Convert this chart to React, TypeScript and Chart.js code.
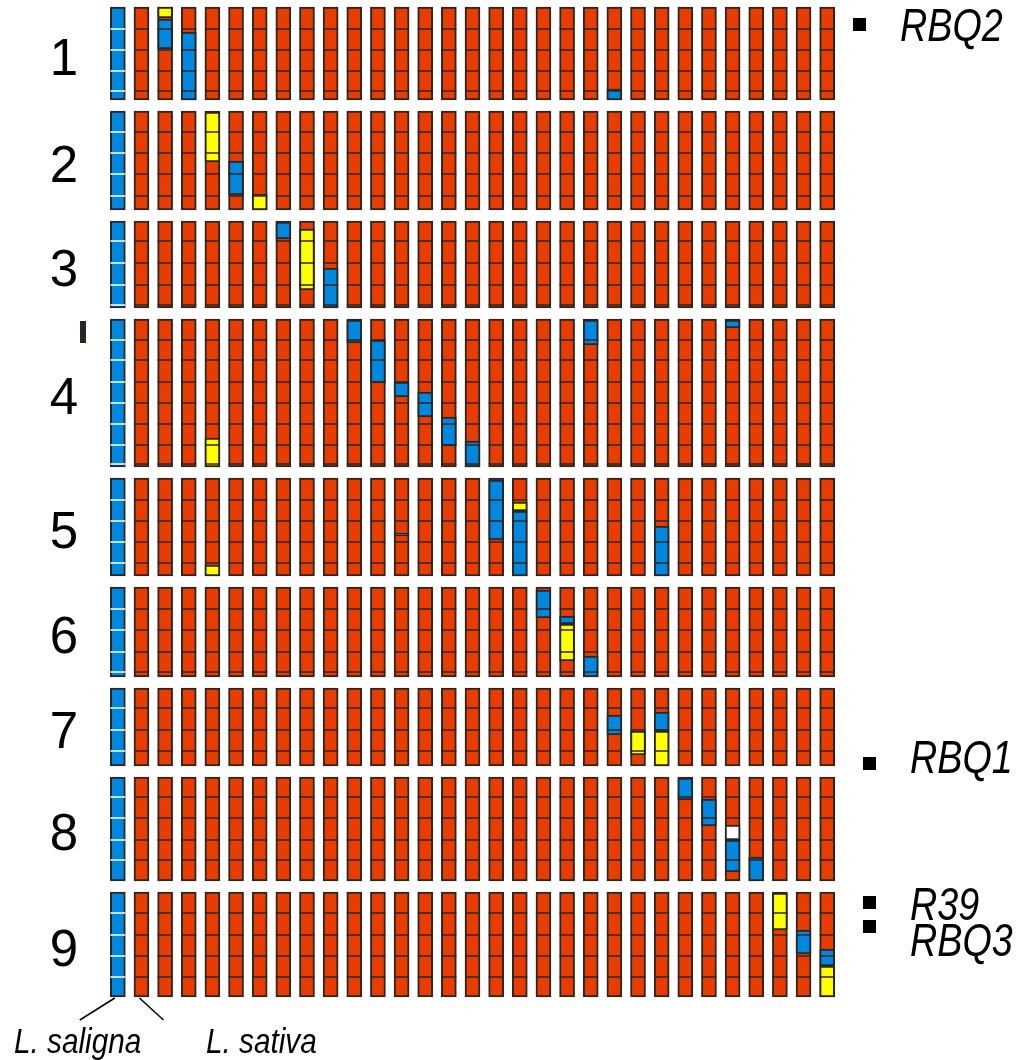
import React, { useEffect, useRef } from "react";
import { Chart, registerables } from "chart.js";

Chart.register(...registerables);

// ---------- DATA ----------
// Lines (columns): donor parent, recurrent parent, then the introgression lines
const lines = [
  "L. saligna", "L. sativa",
  "IL01", "IL02", "IL03", "IL04", "IL05", "IL06", "IL07", "IL08", "IL09", "IL10",
  "IL11", "IL12", "IL13", "IL14", "IL15", "IL16", "IL17", "IL18", "IL19", "IL20",
  "IL21", "IL22", "IL23", "IL24", "IL25", "IL26", "IL27", "IL28", "IL29",
];

const chromosomes = ["1", "2", "3", "4", "5", "6", "7", "8", "9"];
// chromosome lengths (map units)
const chromLength = [93, 99, 87, 148, 98, 90, 78, 104, 105];
// marker positions along each chromosome (map units from top)
const markerPos = [
  [22, 43, 64, 84],
  [21, 42, 63, 85],
  [20, 42, 64, 84],
  [21, 41, 63, 84, 105, 126, 145],
  [22, 43, 64, 85],
  [22, 43, 65, 85],
  [20, 42, 63],
  [20, 41, 63, 83],
  [21, 43, 64, 85],
];

// introgressions: [chromosome, line index, start, end, genotype]
// S = L. saligna homozygous, H = heterozygous, M = missing
const introgressions: [number, number, number, number, string][] = [
  [1, 2, 0, 11, "H"], [1, 2, 12, 42, "S"], [1, 3, 25, 93, "S"], [1, 21, 82, 93, "S"],
  [2, 4, 1, 51, "H"], [2, 5, 50, 84, "S"], [2, 6, 83, 99, "H"],
  [3, 7, 1, 18, "S"], [3, 8, 8, 69, "H"], [3, 9, 47, 87, "S"],
  [4, 4, 119, 148, "H"], [4, 10, 1, 24, "S"], [4, 11, 21, 64, "S"], [4, 12, 63, 78, "S"],
  [4, 13, 73, 98, "S"], [4, 14, 98, 127, "S"], [4, 15, 122, 148, "S"], [4, 20, 1, 26, "S"],
  [4, 26, 1, 9, "S"],
  [5, 4, 87, 98, "H"], [5, 12, 55, 58, "S"], [5, 16, 2, 62, "S"], [5, 17, 24, 33, "H"],
  [5, 17, 33, 98, "S"], [5, 23, 48, 98, "S"],
  [6, 18, 3, 31, "S"], [6, 19, 29, 37, "S"], [6, 19, 37, 74, "H"], [6, 20, 69, 90, "S"],
  [7, 21, 27, 47, "S"], [7, 22, 43, 67, "H"], [7, 23, 24, 43, "S"], [7, 23, 43, 78, "H"],
  [8, 24, 1, 23, "S"], [8, 25, 22, 49, "S"], [8, 26, 48, 63, "M"], [8, 26, 63, 95, "S"],
  [8, 27, 80, 104, "S"],
  [9, 28, 1, 38, "H"], [9, 29, 38, 62, "S"], [9, 30, 57, 74, "S"], [9, 30, 74, 105, "H"],
];

// resistance genes / QTLs
const geneNames = ["RBQ2", "RBQ1", "R39", "RBQ3"];
const geneChrom = [1, 7, 9, 9];
const genePos = [18, 76, 11, 35];

// ---------- STYLE / LAYOUT ----------
const GENO_COLORS: Record<string, string> = {
  S: "#0088E0",
  L: "#E83C00",
  H: "#FFFF00",
  M: "#FFFFFF",
};
const EDGE = "#2B2622";
const FIRST_TOP = 7;
const ROW_GAP = 11;
const FONT = '"Liberation Sans", Arial, sans-serif';
const GENE_DX = [-10, 0, 0, 0];
const GENE_LABEL_DY = [3, -4, 4, 16];

function narrowText(ctx: CanvasRenderingContext2D, text: string, x: number, y: number, sx: number) {
  ctx.save();
  ctx.translate(x, y);
  ctx.scale(sx, 1);
  ctx.fillText(text, 0, 0);
  ctx.restore();
}

export default function App() {
  const ref = useRef<HTMLCanvasElement>(null);

  useEffect(() => {
    const tops: number[] = [];
    let acc = FIRST_TOP;
    chromLength.forEach((len) => {
      tops.push(acc);
      acc += len + ROW_GAP;
    });

    const bgData: any[] = [];
    const bgColors: string[] = [];
    chromosomes.forEach((_, ci) => {
      lines.forEach((ln, li) => {
        bgData.push({ x: ln, y: [tops[ci], tops[ci] + chromLength[ci]] });
        bgColors.push(GENO_COLORS[li === 0 ? "S" : "L"]);
      });
    });

    const inData: any[] = [];
    const inColors: string[] = [];
    introgressions.forEach(([c, li, s, e, g]) => {
      inData.push({ x: lines[li], y: [tops[c - 1] + s, tops[c - 1] + e] });
      inColors.push(GENO_COLORS[g]);
    });

    const mkData: any[] = [];
    const mkColors: string[] = [];
    chromosomes.forEach((_, ci) => {
      lines.forEach((ln, li) => {
        markerPos[ci].forEach((p) => {
          mkData.push({ x: ln, y: tops[ci] + p });
          mkColors.push(li === 0 ? "#FFFFFF" : EDGE);
        });
      });
    });

    const overlay = {
      id: "overlay",
      afterDatasetsDraw(chart: any) {
        const ctx = chart.ctx as CanvasRenderingContext2D;
        const xs = chart.scales.x;
        const ys = chart.scales.y;
        ctx.save();
        // chromosome numbers
        ctx.fillStyle = "#000";
        ctx.font = `51px ${FONT}`;
        ctx.textAlign = "center";
        ctx.textBaseline = "alphabetic";
        chromosomes.forEach((c, ci) => {
          const mid = ys.getPixelForValue(tops[ci] + chromLength[ci] / 2);
          ctx.fillText(c, 64, mid + 3 + 18);
        });
        // small tick mark by chromosome 4
        const t0 = ys.getPixelForValue(tops[3] + 2);
        const t1 = ys.getPixelForValue(tops[3] + 24);
        ctx.fillStyle = EDGE;
        ctx.fillRect(80, t0, 6, t1 - t0);
        // genes
        ctx.textAlign = "left";
        ctx.textBaseline = "middle";
        ctx.font = `italic 46px ${FONT}`;
        geneNames.forEach((g, gi) => {
          const y = ys.getPixelForValue(tops[geneChrom[gi] - 1] + genePos[gi]);
          const sx = 870 + GENE_DX[gi];
          ctx.fillStyle = "#000";
          ctx.fillRect(sx - 7, y - 7, 13, 13);
          narrowText(ctx, g, sx + 40, y + GENE_LABEL_DY[gi], 0.82);
        });
        // parent labels
        const bottom = ys.getPixelForValue(tops[8] + chromLength[8]);
        const x0 = xs.getPixelForValue(0);
        const x1 = xs.getPixelForValue(1);
        ctx.strokeStyle = "#000";
        ctx.lineWidth = 1.5;
        ctx.beginPath();
        ctx.moveTo(x0 - 3, bottom + 1);
        ctx.lineTo(x0 - 38, bottom + 23);
        ctx.moveTo(x1 - 2, bottom + 1);
        ctx.lineTo(x1 + 22, bottom + 23);
        ctx.stroke();
        ctx.font = `italic 35px ${FONT}`;
        ctx.textBaseline = "alphabetic";
        ctx.fillStyle = "#000";
        narrowText(ctx, lines[0], 14, 1053, 0.85);
        narrowText(ctx, lines[1], 206, 1053, 0.85);
        ctx.restore();
      },
    };

    const chart = new Chart(ref.current as HTMLCanvasElement, {
      type: "bar",
      data: {
        labels: lines,
        datasets: [
          {
            type: "line",
            label: "markers",
            data: mkData,
            showLine: false,
            pointStyle: "line",
            pointRadius: 7.5,
            pointBorderWidth: 1.5,
            pointBorderColor: mkColors,
            pointBackgroundColor: mkColors,
            order: 0,
          } as any,
          {
            label: "introgressions",
            data: inData,
            backgroundColor: inColors,
            borderColor: EDGE,
            borderWidth: 2,
            borderSkipped: false,
            grouped: false,
            barThickness: 15,
            order: 1,
          } as any,
          {
            label: "chromosomes",
            data: bgData,
            backgroundColor: bgColors,
            borderColor: EDGE,
            borderWidth: 2,
            borderSkipped: false,
            grouped: false,
            barThickness: 15,
            order: 2,
          } as any,
        ],
      },
      options: {
        animation: false,
        responsive: false,
        devicePixelRatio: 1,
        events: [],
        layout: { autoPadding: false, padding: { left: 106, right: 178, top: 0, bottom: 0 } },
        plugins: { legend: { display: false }, tooltip: { enabled: false } },
        scales: {
          x: { type: "category", display: false, offset: true, grid: { display: false } },
          y: { type: "linear", display: false, reverse: true, min: 0, max: 1060 },
        },
      } as any,
      plugins: [overlay],
    });
    return () => chart.destroy();
  }, []);

  return (
    <div style={{ position: "fixed", left: 0, top: 0, width: 1017, height: 1060, background: "#fff" }}>
      <canvas ref={ref} width={1017} height={1060} style={{ display: "block" }} />
    </div>
  );
}
